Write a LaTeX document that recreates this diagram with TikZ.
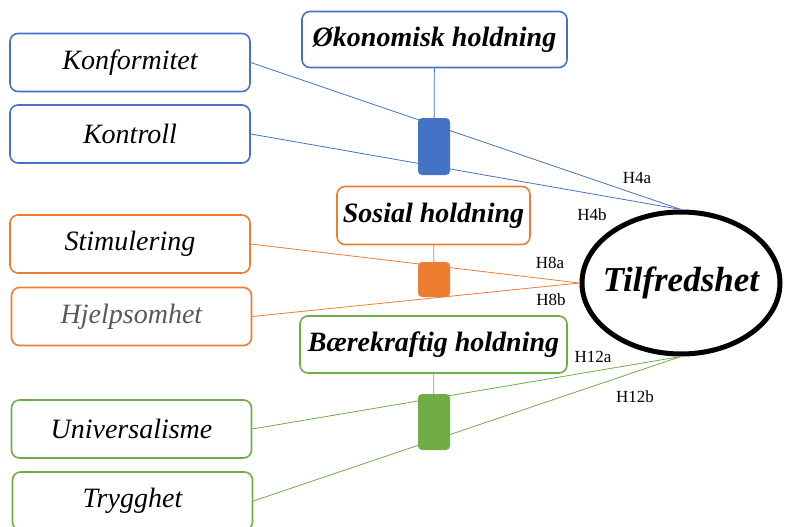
\documentclass[tikz,border=0pt]{standalone}
\usepackage{fontspec}
\setmainfont{Liberation Serif}
\usepackage{tikz}
\usetikzlibrary{shapes}
\definecolor{okoblue}{HTML}{4472C4}
\definecolor{sosorange}{HTML}{ED7D31}
\definecolor{baergreen}{HTML}{70AD47}
\definecolor{hjelpgray}{HTML}{595959}

\begin{document}
\begin{tikzpicture}[x=1pt, y=-1pt,
		valbox/.style={draw, rounded corners=8pt, line width=1.6pt, minimum width=240pt, minimum height=58pt, font=\fontsize{28}{32}\selectfont\itshape},
		holdbox/.style={draw, rounded corners=8pt, line width=1.6pt, minimum height=56pt, font=\fontsize{28}{32}\selectfont\bfseries\itshape},
		knot/.style={rounded corners=4pt, minimum width=32pt, inner sep=0pt},
		link/.style={line width=0.8pt},
		hyp/.style={font=\fontsize{17}{20}\selectfont, inner sep=0pt}]
				\useasboundingbox (0,0) rectangle (785,527);

				\node[draw, ellipse, line width=5pt, inner sep=0pt, minimum width=198pt, minimum height=142pt] (tilf) at (681,283) {};
				\node[font=\fontsize{35}{38}\selectfont\bfseries\itshape] (tilftext) at (tilf.center) {Tilfredshet};

				% blue group
				\node[valbox, color=okoblue, text=black] (konf) at (130,62.5) {Konformitet};
				\node[valbox, color=okoblue, text=black] (kontr) at (130,134) {Kontroll};
				\node[holdbox, color=okoblue, text=black, minimum width=265pt] (oko) at (434.5,39.5) {Økonomisk holdning};
				\draw[okoblue, link] (konf.east) -- (tilf.north);
				\draw[okoblue, link] (kontr.east) -- (tilf.north);
				\node[knot, fill=okoblue, minimum height=57pt] (okoknot) at (434,146.5) {};
				\draw[okoblue, link] (oko) -- (okoknot);

				% orange group
				\node[valbox, color=sosorange, text=black] (stim) at (130,244) {Stimulering};
				\node[valbox, color=sosorange, text=hjelpgray] (hjelp) at (131.5,316.5) {Hjelpsomhet};
				\node[holdbox, color=sosorange, text=black, minimum width=193pt, minimum height=58pt] (sos) at (433.5,215.5) {Sosial holdning};
				\draw[sosorange, link] (stim.east) -- (tilf.west);
				\draw[sosorange, link] (hjelp.east) -- (tilf.west);
				\node[knot, fill=sosorange, minimum height=35pt] (sosknot) at (434,279.5) {};
				\draw[sosorange, link] (sos) -- (sosknot);

				% green group
				\node[valbox, color=baergreen, text=black] (univ) at (131.5,429) {Universalisme};
				\node[valbox, color=baergreen, text=black] (trygg) at (132.5,501) {Trygghet};
				\node[holdbox, color=baergreen, text=black, minimum width=267pt, minimum height=57pt] (baer) at (433.5,344.5) {Bærekraftig holdning};
				\draw[baergreen, link] (univ.east) -- (tilf.south);
				\draw[baergreen, link] (trygg.east) -- (tilf.south);
				\node[knot, fill=baergreen, minimum height=56pt] (baerknot) at (434,422) {};
				\draw[baergreen, link] (baer) -- (baerknot);

				\node[hyp] (h4a) at (637,178) {H4a};
				\node[hyp] (h4b) at (592,215) {H4b};
				\node[hyp] (h8a) at (550,263) {H8a};
				\node[hyp] (h8b) at (551,300) {H8b};
				\node[hyp] (h12a) at (593,357) {H12a};
				\node[hyp] (h12b) at (635,397) {H12b};

			\end{tikzpicture}
\end{document}
